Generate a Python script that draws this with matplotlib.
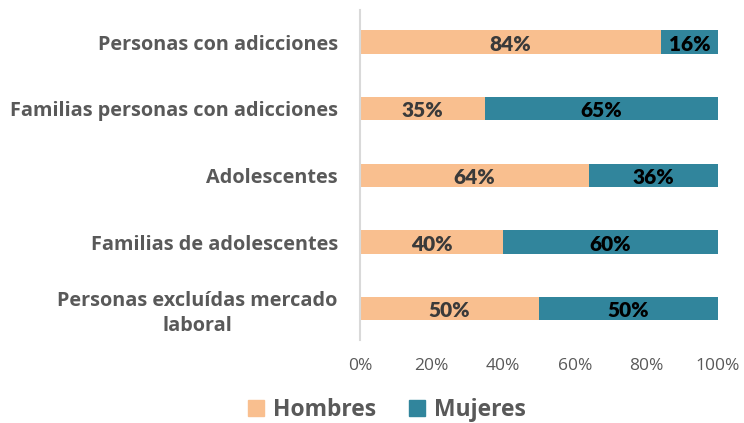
import matplotlib.pyplot as plt
from matplotlib.patches import Patch
from matplotlib.ticker import PercentFormatter

# data
categorias = ["Personas con adicciones",
              "Familias personas con adicciones",
              "Adolescentes",
              "Familias de adolescentes",
              "Personas excluídas mercado\nlaboral"]
hombres = [84, 35, 64, 40, 50]
mujeres = [16, 65, 36, 60, 50]

c_hombres = "#F9BF8F"
c_mujeres = "#31859C"
gris = "#595959"

plt.rcParams['font.family'] = ['Open Sans', 'DejaVu Sans']

fig = plt.figure(figsize=(7.44, 4.23), dpi=100)
ax = fig.add_axes([0.484, 0.196, 0.481, 0.78])

y = list(range(len(categorias)))
ax.barh(y, hombres, height=0.35, color=c_hombres)
ax.barh(y, mujeres, left=hombres, height=0.35, color=c_mujeres)

# value labels
for i in y:
    ax.text(hombres[i] / 2, i + 0.03, f"{hombres[i]}%", ha='center', va='center',
            fontsize=15, fontweight='heavy', color="#3A3A3A", family=['Lato'])
    ax.text(hombres[i] + mujeres[i] / 2, i + 0.03, f"{mujeres[i]}%", ha='center', va='center',
            fontsize=15, fontweight='heavy', color="black", family=['Lato'])

ax.set_xlim(0, 100)
ax.set_ylim(4.47, -0.48)
ax.set_xticks([0, 20, 40, 60, 80, 100])
ax.xaxis.set_major_formatter(PercentFormatter(decimals=0))
ax.set_yticks(y)
ax.set_yticklabels(categorias, fontsize=14.3, fontweight='bold', color=gris,
                   multialignment='center', linespacing=1.3)
ax.tick_params(axis='x', length=0, labelsize=12.5, labelcolor=gris, pad=13)
ax.tick_params(axis='y', length=0, pad=16)

for s in ['top', 'right', 'bottom']:
    ax.spines[s].set_visible(False)
ax.spines['left'].set_color("#D9D9D9")
ax.spines['left'].set_linewidth(1.5)

handles = [Patch(color=c_hombres, label="Hombres"), Patch(color=c_mujeres, label="Mujeres")]
leg = fig.legend(handles=handles, loc='center', bbox_to_anchor=(0.52, 0.03), ncol=2,
                 frameon=False, handlelength=0.7, handleheight=0.7, handletextpad=0.4,
                 columnspacing=1.4, borderpad=0.2,
                 prop={'size': 16.5, 'weight': 'bold'})
for t in leg.get_texts():
    t.set_color(gris)

fig.savefig("out.png", dpi=100)
